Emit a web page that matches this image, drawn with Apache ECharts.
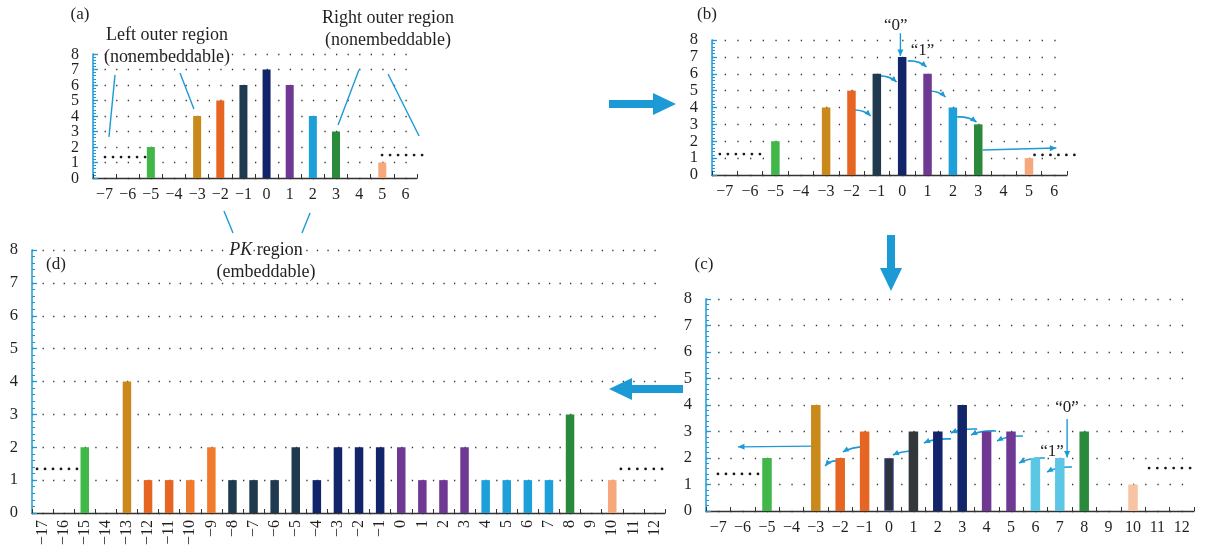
<!DOCTYPE html>
<html><head><meta charset="utf-8">
<script src="https://cdn.jsdelivr.net/npm/echarts@6/dist/echarts.min.js"></script>
<style>html,body{margin:0;padding:0;background:#fff}#c{width:1213px;height:552px}</style>
</head><body><div id="c"></div>
<script>
// ---------- DATA ----------
const catsA = ['−7','−6','−5','−4','−3','−2','−1','0','1','2','3','4','5','6'];
const valuesA = [0,0,2,0,4,5,6,7,6,4,3,0,1,0];
const catsB = ['−7','−6','−5','−4','−3','−2','−1','0','1','2','3','4','5','6'];
const valuesB = [0,0,2,0,4,5,6,7,6,4,3,0,1,0];
const catsC = ['−7','−6','−5','−4','−3','−2','−1','0','1','2','3','4','5','6','7','8','9','10','11','12'];
const valuesC = [0,0,2,0,4,2,3,2,3,3,4,3,3,2,2,3,0,1,0,0];
const catsD = ['−17','−16','−15','−14','−13','−12','−11','−10','−9','−8','−7','−6','−5','−4','−3','−2','−1','0','1','2','3','4','5','6','7','8','9','10','11','12'];
const valuesD = [0,0,2,0,4,1,1,1,2,1,1,1,2,1,2,2,2,2,1,1,2,1,1,1,1,3,0,1,0,0];
const yTicks = [0,1,2,3,4,5,6,7,8];

// ---------- STYLE ----------
const PAL = {green:'#41b649', gold:'#c98a1b', orange:'#e66522', orange2:'#f07b2f', slate:'#1f3a4e',
  navy:'#13256a', purple:'#6e3893', sky:'#1d9fd9', dgreen:'#2a8a3b', salmon:'#f6a77b',
  peach:'#f8c3a3', cyan:'#5bc7e4', charcoal:'#33373b', zero:'#2d3140', none:'#ffffff'};
const colorsA = ['none','none','green','none','gold','orange','slate','navy','purple','sky','dgreen','none','salmon','none'];
const colorsB = colorsA;
const colorsC = ['none','none','green','none','gold','orange','orange','zero','charcoal','navy','navy','purple','purple','cyan','cyan','dgreen','none','peach','none','none'];
const colorsD = ['none','none','green','none','gold','orange','orange','orange2','orange2','slate','slate','slate','slate','navy','navy','navy','navy','purple','purple','purple','purple','sky','sky','sky','sky','dgreen','none','salmon','none','none'];

const FONT = '"Liberation Serif","DejaVu Serif",serif';
const BLUE = '#1b9ad6';
const TXT = '#231f20';
const grids = [
  {left:93, top:54, width:324, height:124},
  {left:712, top:40, width:355, height:135},
  {left:706, top:299, width:488, height:212},
  {left:32, top:250, width:633, height:263}
];
const cats = [catsA, catsB, catsC, catsD];
const vals = [valuesA, valuesB, valuesC, valuesD];
const cols = [colorsA, colorsB, colorsC, colorsD];
const mins = [-7,-7,-7,-17];
const barW = [8,8.5,9.5,8.5];

const chart = echarts.init(document.getElementById('c'));
chart.setOption({
  animation:false,
  backgroundColor:'#fff',
  grid: grids.map(g=>Object.assign({containLabel:false}, g)),
  xAxis: grids.map((g,i)=>({
    type:'category', gridIndex:i, data:cats[i], boundaryGap:true,
    axisLine:{lineStyle:{color:'#333', width:1.3}},
    axisTick:{show:true, inside:true, length:4, alignWithLabel:false, interval:0, lineStyle:{color:'#333'}},
    axisLabel:{interval:0, fontFamily:FONT, fontSize:16, color:TXT, margin: i===3?7:9, rotate: i===3?90:0, hideOverlap:false},
    splitLine:{show:false}
  })),
  yAxis: grids.map((g,i)=>{
    const cw = g.width/cats[i].length;
    return {
      type:'value', gridIndex:i, min:yTicks[0], max:yTicks[yTicks.length-1], interval:1,
      axisLine:{show:true, lineStyle:{color:BLUE, width:1.5}},
      axisTick:{show:true, inside:true, length:5, lineStyle:{color:BLUE, width:1.3}},
      minorTick:{show:true, splitNumber:5, length:3, lineStyle:{color:BLUE}},
      axisLabel:{show: i!==0, fontFamily:FONT, fontSize:16.5, color:TXT, margin:14, showMinLabel:true, showMaxLabel:true},
      splitLine:{show:true, lineStyle:{color:'#333', width:1.3, type:[1.3, cw/2-1.3]}}
    };
  }),
  series: grids.map((g,i)=>({
    type:'bar', xAxisIndex:i, yAxisIndex:i, barWidth:barW[i],
    data: vals[i].map((v,k)=>({value:v, itemStyle: cols[i][k]==='zero'
      ? {color:PAL.zero, borderColor:'#4a5a9a', borderWidth:1}
      : {color:PAL[cols[i][k]]}}))
  }))
});

// ---------- ANNOTATIONS (in data coordinates) ----------
function P(g, x, y){
  const a = chart.convertToPixel({gridIndex:g}, [0, y]);
  const b = chart.convertToPixel({gridIndex:g}, [1, y]);
  const idx = x - mins[g];
  return [a[0] + idx*(b[0]-a[0]), a[1]];
}
const els = [];
function head(x2,y2,dx,dy,len,w){
  const L = Math.hypot(dx,dy)||1, ux=dx/L, uy=dy/L;
  const bx = x2-ux*len, by = y2-uy*len;
  return {type:'polygon', shape:{points:[[x2,y2],[bx-uy*w/2,by+ux*w/2],[bx+uy*w/2,by-ux*w/2]]}, style:{fill:BLUE}};
}
function curved(g, x1,y1,x2,y2, bendUp){
  const p1=P(g,x1,y1), p2=P(g,x2,y2);
  const cp=[p1[0]+0.62*(p2[0]-p1[0]), p1[1]-(bendUp||0.5)];
  els.push({type:'bezierCurve', shape:{x1:p1[0],y1:p1[1],x2:p2[0],y2:p2[1],cpx1:cp[0],cpy1:cp[1]}, style:{stroke:BLUE, lineWidth:1.6, fill:null}});
  els.push(head(p2[0],p2[1],p2[0]-cp[0],p2[1]-cp[1],6,5.5));
}
function straight(g, x1,y1,x2,y2, withHead){
  const p1=P(g,x1,y1), p2=P(g,x2,y2);
  els.push({type:'line', shape:{x1:p1[0],y1:p1[1],x2:p2[0],y2:p2[1]}, style:{stroke:BLUE, lineWidth:1.4}});
  if(withHead) els.push(head(p2[0],p2[1],p2[0]-p1[0],p2[1]-p1[1],6.5,6));
}
function dots(g, x1, x2, y){
  const p1=P(g,x1,y), p2=P(g,x2,y);
  for(let k=0;k<6;k++){
    els.push({type:'circle', shape:{cx:p1[0]+k*(p2[0]-p1[0])/5, cy:p1[1], r:1.4}, style:{fill:'#1a1a1a'}});
  }
}
function txt(x,y,t,opt){
  els.push({type:'text', x:x, y:y, style:Object.assign({text:t, font:'18px '+FONT, fill:TXT, align:'center', verticalAlign:'middle'}, opt||{})});
}
function dtxt(g,x,y,t,opt){ const p=P(g,x,y); txt(p[0],p[1],t,opt); }

// y tick labels of panel (a) (tight spacing: drawn at the axis' own tick positions)
yTicks.forEach(v=>{
  const p = chart.convertToPixel({gridIndex:0}, [0, v]);
  txt(grids[0].left-14, p[1]+0.5, String(v), {align:'right', font:'16px '+FONT});
});

// panel (a)
dots(0,-6.98,-5.25,1.35); dots(0,4.99,6.72,1.48);
straight(0,-6.55,6.65,-6.81,2.65); straight(0,-3.74,6.77,-3.14,4.45);
straight(0,3.99,6.97,3.09,3.42); straight(0,5.25,6.71,6.59,2.71);
straight(0,-1.84,-2.13,-1.45,-3.55); straight(0,1.88,-2.26,1.53,-3.55);
// panel (b)
dots(1,-7.19,-5.61,1.24); dots(1,5.22,6.79,1.19);
curved(1,-1.95,3.85,-1.24,3.5); curved(1,-0.96,5.87,-0.22,5.51);
curved(1,0.22,6.76,0.96,6.4); curved(1,1.0,4.98,1.71,4.62);
curved(1,2.15,3.44,2.93,3.14);
straight(1,3.17,1.48,6.08,1.6,true);
straight(1,-0.07,8.4,-0.07,7.05,true);
dtxt(1,-0.25,8.83,'“0”',{font:'17px '+FONT}); dtxt(1,0.8,7.4,'“1”',{font:'17px '+FONT});
// panel (c)
dots(2,-7.01,-5.37,1.40); dots(2,10.66,12.34,1.62);
straight(2,-3.07,2.45,-6.19,2.42,true);
curved(2,-2.13,1.89,-2.62,1.70,0.3); curved(2,-0.86,2.42,-1.89,2.23);
curved(2,1.19,2.26,0.16,2.11); curved(2,2.54,2.72,1.43,2.57);
curved(2,3.61,3.09,2.54,2.94); curved(2,4.39,3.02,3.36,2.87);
curved(2,5.49,2.83,4.43,2.64); curved(2,6.39,2.0,5.33,1.81);
curved(2,7.5,1.66,6.48,1.47);
straight(2,7.3,3.47,7.3,2.02,true);
dtxt(2,7.3,3.89,'“0”',{font:'17px '+FONT}); dtxt(2,6.68,2.23,'“1”',{font:'17px '+FONT});
// panel (d)
dots(3,-17.26,-15.37,1.34); dots(3,10.41,12.36,1.34);

// labels
const LF = {font:'17px '+FONT};
txt(80,15,'(a)',LF); txt(707,15,'(b)',LF); txt(704,265,'(c)',LF); txt(56,265,'(d)',LF);
txt(167,35,'Left outer region'); txt(167,57,'(nonembeddable)');
txt(388,18,'Right outer region'); txt(388,40,'(nonembeddable)');
els.push({type:'text', x:266, y:250, style:{text:'{i|PK} region', rich:{i:{font:'italic 18px '+FONT, fill:TXT}}, font:'18px '+FONT, fill:TXT, align:'center', verticalAlign:'middle'}});
txt(266,272,'(embeddable)');

// big flow arrows
function bigArrow(x1,y1,x2,y2){
  const dx=x2-x1, dy=y2-y1, L=Math.hypot(dx,dy), ux=dx/L, uy=dy/L;
  const sh=4, hw=11, hl=23;
  const bx=x2-ux*hl, by=y2-uy*hl;
  const nx=-uy, ny=ux;
  els.push({type:'polygon', shape:{points:[
    [x1+nx*sh,y1+ny*sh],[bx+nx*sh,by+ny*sh],[bx+nx*hw,by+ny*hw],[x2,y2],
    [bx-nx*hw,by-ny*hw],[bx-nx*sh,by-ny*sh],[x1-nx*sh,y1-ny*sh]]}, style:{fill:BLUE}});
}
bigArrow(609,104,676,104);
bigArrow(891,235,891,291);
bigArrow(683,389,609,389);

chart.setOption({graphic:{elements:els}});
</script>
</body></html>
